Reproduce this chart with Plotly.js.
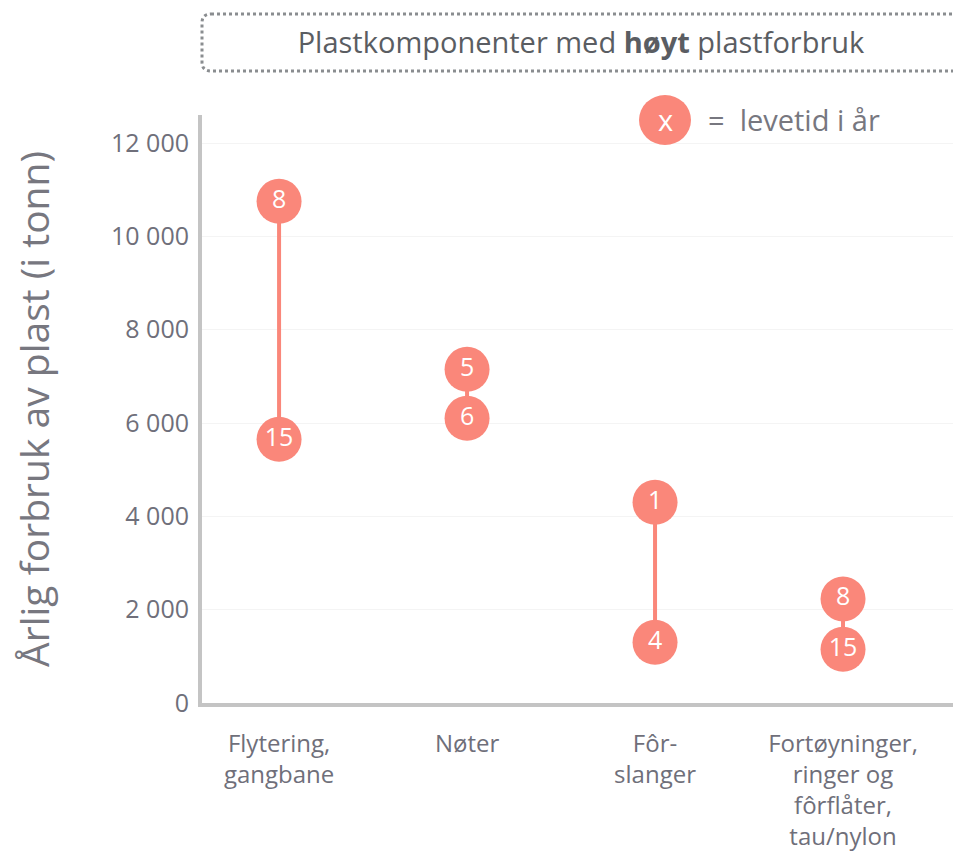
<!DOCTYPE html>
<html>
<head>
<meta charset="utf-8">
<script src="https://cdn.plot.ly/plotly-3.0.1.min.js"></script>
<style>html,body{margin:0;padding:0;background:#fff;}#chart{width:953px;height:857px;}</style>
</head>
<body>
<div id="chart"></div>
<script>
// Data
const categories = ['Flytering,<br>gangbane', 'Nøter', 'Fôr-<br>slanger', 'Fortøyninger,<br>ringer og<br>fôrflåter,<br>tau/nylon'];
const highValues = [10750, 7150, 4300, 2230];
const highLifetime = [8, 5, 1, 8];
const lowValues = [5650, 6100, 1300, 1150];
const lowLifetime = [15, 6, 4, 15];
const yTickVals = [0, 2000, 4000, 6000, 8000, 10000, 12000];

const salmon = '#FA877A';
const grey = '#6f6f7a';
const FONT = 'Open Sans, sans-serif';

const traces = categories.map((c, i) => ({
  type: 'scatter',
  mode: 'lines+markers+text',
  x: [c, c],
  y: [highValues[i], lowValues[i]],
  text: [String(highLifetime[i]), String(lowLifetime[i])],
  textposition: 'middle center',
  textfont: {color: '#ffffff', size: 25, family: FONT},
  line: {color: salmon, width: 4},
  marker: {color: salmon, size: 45, line: {width: 0}},
  hoverinfo: 'x+y',
  showlegend: false,
  cliponaxis: false
}));

// plot area pixel helpers for paper coords
const L = 202, R = 953, T = 115, B = 703;
const px = v => (v - L) / (R - L);
const py = v => (B - v) / (B - T);

const bx0 = px(202), bx1 = px(962), by0 = py(71), by1 = py(14);
const rx = 9 / (R - L), ry = 9 / (B - T);
const boxPath = `M ${bx0 + rx} ${by1} L ${bx1} ${by1} L ${bx1} ${by0} L ${bx0 + rx} ${by0} Q ${bx0} ${by0} ${bx0} ${by0 + ry} L ${bx0} ${by1 - ry} Q ${bx0} ${by1} ${bx0 + rx} ${by1} Z`;

const layout = {
  width: 953, height: 857,
  margin: {l: L, r: 953 - R, t: T, b: 857 - B, pad: 0},
  paper_bgcolor: '#ffffff', plot_bgcolor: '#ffffff',
  separators: ', ',
  font: {family: FONT, color: grey},
  title: {
    text: 'Plastkomponenter med <b>høyt</b> plastforbruk',
    font: {size: 29, color: '#5a5d62', family: FONT},
    xref: 'paper', x: px(581), xanchor: 'center',
    yref: 'container', y: 1 - 43 / 857, yanchor: 'middle'
  },
  xaxis: {
    type: 'category',
    range: [-0.41, 3.585],
    showline: true, linecolor: '#c4c4c4', linewidth: 4,
    showgrid: false, zeroline: false,
    ticks: '', ticklabelstandoff: 16,
    tickfont: {size: 24, color: grey, family: FONT},
    fixedrange: true
  },
  yaxis: {
    range: [0, 12600],
    tickvals: yTickVals,
    tickformat: ',d',
    showline: true, linecolor: '#c4c4c4', linewidth: 4,
    showgrid: true, gridcolor: '#f4f4f4', gridwidth: 1,
    zeroline: false,
    ticks: '', ticklabelstandoff: 4,
    tickfont: {size: 25, color: grey, family: FONT},
    title: {text: 'Årlig forbruk av plast (i tonn)', font: {size: 39, color: '#77777f', family: FONT}, standoff: 50},
    automargin: false,
    fixedrange: true
  },
  shapes: [
    {type: 'path', xref: 'paper', yref: 'paper', path: boxPath,
     line: {color: '#8a8d90', width: 3, dash: 'dot'}, fillcolor: 'rgba(0,0,0,0)', layer: 'above'},
    {type: 'circle', xref: 'paper', yref: 'paper',
     xsizemode: 'pixel', ysizemode: 'pixel',
     xanchor: px(665), yanchor: py(120),
     x0: -26, x1: 26, y0: -25, y1: 25,
     fillcolor: salmon, line: {width: 0}, layer: 'above'}
  ],
  annotations: [
    {xref: 'paper', yref: 'paper', x: px(665), y: py(119), text: 'x', showarrow: false,
     font: {size: 29, color: '#ffffff', family: FONT}, xanchor: 'center', yanchor: 'middle'},
    {xref: 'paper', yref: 'paper', x: px(706), y: py(119), text: '=&nbsp;&nbsp;levetid i år', showarrow: false,
     font: {size: 29, color: '#77777f', family: FONT}, xanchor: 'left', yanchor: 'middle'}
  ]
};

Plotly.newPlot('chart', traces, layout, {displayModeBar: false, responsive: false});
</script>
</body>
</html>
